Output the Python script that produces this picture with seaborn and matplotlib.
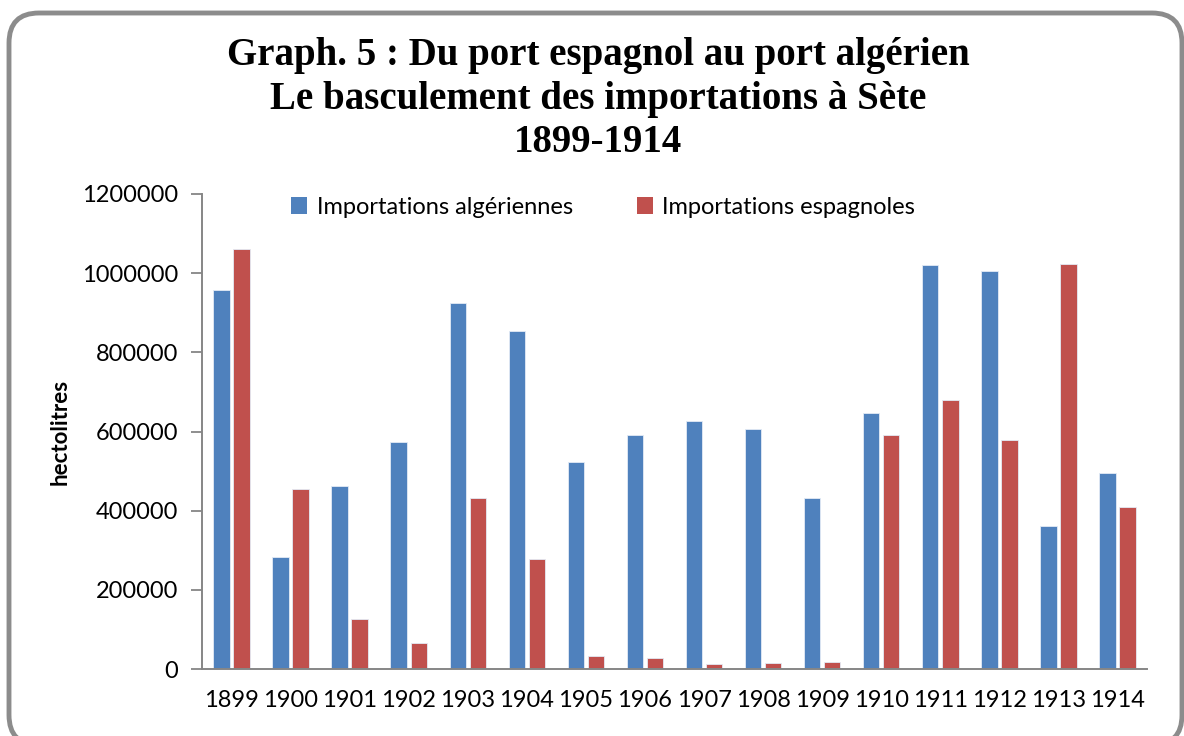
import matplotlib
matplotlib.use("Agg")
import matplotlib.pyplot as plt
from matplotlib.patches import FancyBboxPatch
from matplotlib.transforms import IdentityTransform
import seaborn as sns
import pandas as pd

# ---- data ----
years = ["1899", "1900", "1901", "1902", "1903", "1904", "1905", "1906",
         "1907", "1908", "1909", "1910", "1911", "1912", "1913", "1914"]
algeriennes = [958000, 284000, 463000, 573000, 924000, 855000, 522000, 590000,
               627000, 607000, 431000, 648000, 1021000, 1006000, 362000, 494000]
espagnoles = [1061000, 455000, 126000, 65000, 432000, 278000, 34000, 28000,
              13000, 16000, 18000, 590000, 680000, 578000, 1022000, 409000]
series_names = ["Importations algériennes", "Importations espagnoles"]
yticks = [0, 200000, 400000, 600000, 800000, 1000000, 1200000]
title_lines = ["Graph. 5 : Du port espagnol au port algérien",
               "Le basculement des importations à Sète",
               "1899-1914"]
ylabel = "hectolitres"

df = pd.DataFrame({
    "year": years * 2,
    "value": algeriennes + espagnoles,
    "series": [series_names[0]] * len(years) + [series_names[1]] * len(years),
})

sns.set_theme(style="white")
plt.rcParams["font.family"] = ["Lato", "DejaVu Sans"]
plt.rcParams["text.color"] = "black"
plt.rcParams["xtick.color"] = "black"
plt.rcParams["ytick.color"] = "black"
plt.rcParams["axes.labelcolor"] = "black"

W, H = 1184, 736
fig = plt.figure(figsize=(W / 100, H / 100), dpi=100)
fig.patch.set_facecolor("white")

ax_l, ax_r, ax_t, ax_b = 202, 1147, 194, 669
ax = fig.add_axes([ax_l / W, 1 - ax_b / H, (ax_r - ax_l) / W, (ax_b - ax_t) / H])

sns.barplot(data=df, x="year", y="value", hue="series", order=years,
            hue_order=series_names, palette=["#4F81BD", "#C0504D"],
            saturation=1, width=0.68, gap=0.18, edgecolor="#e3ebf5", linewidth=0.6,
            ax=ax, errorbar=None)

ax.set_ylim(0, 1200000)
ax.set_yticks(yticks)
ax.set_yticklabels([str(v) for v in yticks])
ax.set_xlabel("")
ax.set_ylabel(ylabel, fontsize=16, fontweight="bold", color="black")
ax.yaxis.set_label_coords(-0.1385, 0.5)

grey = "#868686"
for s in ["top", "right"]:
    ax.spines[s].set_visible(False)
for s in ["left", "bottom"]:
    ax.spines[s].set_color(grey)
    ax.spines[s].set_linewidth(1.4)
ax.tick_params(axis="y", direction="out", length=8, width=1.3, color=grey,
               labelcolor="black", labelsize=17, pad=9, left=True)
ax.tick_params(axis="x", length=0, labelsize=17, labelcolor="black", pad=15)
ax.set_facecolor("white")
ax.grid(False)

leg = ax.legend(loc="center", bbox_to_anchor=((603 - ax_l) / (ax_r - ax_l), (ax_b - 207) / (ax_b - ax_t)),
                ncol=2, frameon=False, fontsize=17, handlelength=0.7, handleheight=0.7,
                handletextpad=0.4, columnspacing=2.7, borderaxespad=0)
for h in leg.legend_handles:
    h.set_edgecolor("none")
for t in leg.get_texts():
    t.set_color("black")

fig.text(598 / W, 1 - 99 / H, "\n".join(title_lines), ha="center", va="center",
         fontsize=28, fontweight="bold", family=["Liberation Serif", "DejaVu Serif"],
         linespacing=1.24, color="black")

frame = FancyBboxPatch((9, H - 745), 1173, 732,
                       boxstyle="round,pad=0,rounding_size=30",
                       transform=IdentityTransform(), fill=False,
                       edgecolor="#8c8c8c", linewidth=3.5)
fig.add_artist(frame)

fig.savefig("out.png", dpi=100)
